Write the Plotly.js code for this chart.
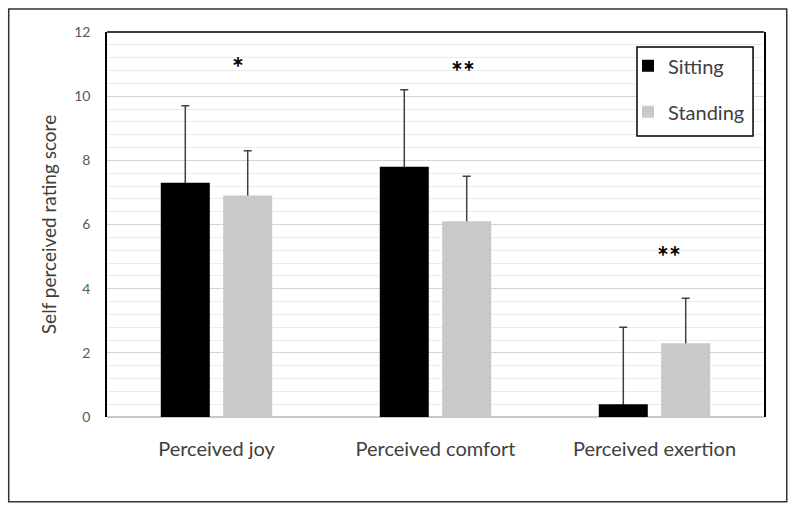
<!DOCTYPE html>
<html>
<head>
<meta charset="utf-8">
<script src="https://cdn.plot.ly/plotly-3.0.1.min.js"></script>
<style>
  body { margin: 0; background: #fff; }
  #chart { width: 800px; height: 510px; }
</style>
</head>
<body>
<div id="chart"></div>
<script>
// categories and series
let categories = ['Perceived joy', 'Perceived comfort', 'Perceived exertion'];
let sittingMean = [7.3, 7.8, 0.4];
let sittingSD = [2.4, 2.4, 2.4];
let standingMean = [6.9, 6.1, 2.3];
let standingSD = [1.4, 1.4, 1.4];
let yTicks = [0, 2, 4, 6, 8, 10, 12];
let marks = ['*', '**', '**'];
let markY = [10.9, 10.8, 5.03];

let font = 'Lato, "Open Sans", sans-serif';

function errBar(sd) {
  return { type: 'data', array: sd, symmetric: true,
    color: '#404040', thickness: 1.5, width: 4 };
}

// error bars sit on the lower subplot, bars on an overlay above them,
// so the lower half is hidden and only the upper whisker shows
let err1 = {
  x: categories, y: sittingMean, type: 'bar', showlegend: false, hoverinfo: 'skip',
  marker: { color: 'rgba(0,0,0,0)' }, error_y: errBar(sittingSD)
};
let err2 = {
  x: categories, y: standingMean, type: 'bar', showlegend: false, hoverinfo: 'skip',
  marker: { color: 'rgba(0,0,0,0)' }, error_y: errBar(standingSD)
};

let trace1 = {
  x: categories,
  y: sittingMean,
  type: 'bar',
  name: 'Sitting',
  legendgroup: 'a',
  yaxis: 'y2',
  marker: { color: '#000000' }
};

let trace2 = {
  x: categories,
  y: standingMean,
  type: 'bar',
  name: 'Standing',
  legendgroup: 'b',
  yaxis: 'y2',
  marker: { color: '#c9c9c9' }
};

// asterisks sit slightly right of the category centre
let markX = [0.1, 1.125, 2.066];
let annotations = marks.map(function (m, i) {
  return {
    x: markX[i], y: markY[i], xref: 'x', yref: 'y',
    text: '<b>' + m + '</b>', showarrow: false,
    font: { family: font, size: 28, color: '#000' }
  };
});

let layout = {
  width: 800,
  height: 510,
  margin: { l: 107, r: 36, t: 32, b: 93 },
  paper_bgcolor: '#fff',
  plot_bgcolor: '#fff',
  barmode: 'group',
  bargap: 0.43,
  bargroupgap: 0.215,
  font: { family: font, color: '#595959' },
  xaxis: {
    type: 'category',
    showline: false,
    showgrid: false,
    ticks: 'outside',
    ticklen: 14,
    tickcolor: 'rgba(0,0,0,0)',
    tickfont: { size: 20, color: '#404040' }
  },
  yaxis: {
    range: [0, 12],
    tickvals: yTicks,
    showline: true,
    mirror: true,
    linecolor: '#000',
    linewidth: 1.5,
    gridcolor: '#d4d4d4',
    gridwidth: 1,
    zeroline: true,
    zerolinecolor: '#c8c8c8',
    zerolinewidth: 1.5,
    minor: { dtick: 0.4, showgrid: true, gridcolor: '#ececec', gridwidth: 1 },
    ticks: 'outside',
    ticklen: 12,
    tickcolor: 'rgba(0,0,0,0)',
    tickfont: { size: 14, color: '#595959' },
    title: { text: 'Self perceived rating score', standoff: 13,
      font: { size: 19, color: '#404040' } }
  },
  yaxis2: {
    range: [0, 12],
    overlaying: 'y',
    side: 'left',
    showgrid: false,
    zeroline: false,
    showticklabels: false,
    showline: false
  },
  legend: {
    x: 0.793, y: 0.963, xanchor: 'left', yanchor: 'top',
    borderwidth: 0,
    bgcolor: 'rgba(0,0,0,0)',
    tracegroupgap: 17,
    font: { size: 20, color: '#404040' }
  },
  annotations: annotations,
  shapes: [
    // top border of the plot frame
    { type: 'line', xref: 'paper', yref: 'paper', x0: 0, x1: 1, y0: 1, y1: 1,
      line: { color: '#000', width: 1.5 } },
    // legend box (white, above the grid, under the legend text)
    { type: 'rect', xref: 'paper', yref: 'paper', x0: 0.8067, x1: 0.9833, y0: 0.73, y1: 0.961,
      fillcolor: '#fff', layer: 'above', line: { color: '#000', width: 1.5 } },
    // outer frame round the whole figure
    { type: 'rect', xref: 'paper', yref: 'paper', x0: -0.1496, x1: 1.0346, y0: -0.22, y1: 1.0597,
      line: { color: '#333', width: 1.5 } }
  ]
};

Plotly.newPlot('chart', [err1, err2, trace1, trace2], layout, { displayModeBar: false });
</script>
</body>
</html>
